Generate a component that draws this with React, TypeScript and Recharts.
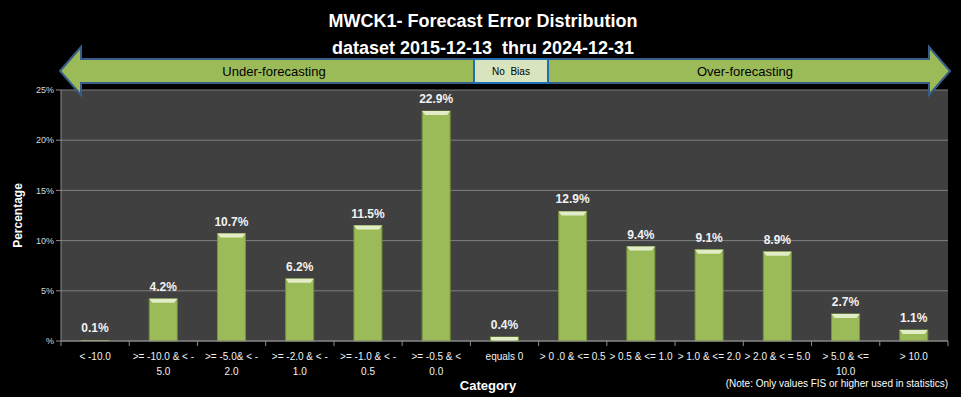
import { BarChart, Bar, XAxis, YAxis, CartesianGrid, LabelList, Cell } from 'recharts';

// category labels, split on the lines the reference wraps them
const categories: string[][] = [
  ['< -10.0'],
  ['>= -10.0 & < -', '5.0'],
  ['>= -5.0& < -', '2.0'],
  ['>= -2.0 & < -', '1.0'],
  ['>= -1.0 & < -', '0.5'],
  ['>= -0.5 & <', '0.0'],
  ['equals 0'],
  ['> 0 .0 & <= 0.5'],
  ['> 0.5 & <= 1.0'],
  ['> 1.0 & <= 2.0'],
  ['> 2.0 & < = 5.0'],
  ['> 5.0 & <=', '10.0'],
  ['> 10.0'],
];

const percentages = [0.1, 4.2, 10.7, 6.2, 11.5, 22.9, 0.4, 12.9, 9.4, 9.1, 8.9, 2.7, 1.1];

const yTicks = [0, 5, 10, 15, 20, 25];

const FONT = "'Liberation Sans', Arial, sans-serif";

const data = categories.map((lines, i) => ({ name: lines.join(' '), lines, value: percentages[i] }));

const BAND = (948 - 61) / categories.length;

const CategoryTick = (props: any) => {
  const { x, y, payload, index } = props;
  const idx = payload.index ?? index;
  const lines: string[] = data[idx]?.lines ?? [String(payload.value)];
  const last = idx === categories.length - 1;
  return (
    <g>
      <line x1={x - BAND / 2} x2={x - BAND / 2} y1={y} y2={y + 5} stroke="#8C8C8C" />
      {last && <line x1={x + BAND / 2} x2={x + BAND / 2} y1={y} y2={y + 5} stroke="#8C8C8C" />}
      {lines.map((l, k) => (
        <text key={k} x={x} y={y + 19 + k * 15} textAnchor="middle" fill="#F2F2F2"
          fontSize={10} fontFamily={FONT}>{l}</text>
      ))}
    </g>
  );
};

// green bar with the light bevel along its top edge
const BevelBar = (props: any) => {
  const { x, y, width, height, fill } = props;
  if (!height || height <= 0) return null;
  if (height < 2) return <rect x={x} y={y} width={width} height={height} fill={fill} />;
  const b = Math.min(4, height);
  return (
    <g>
      <rect x={x} y={y} width={width} height={height} fill={fill} stroke="#76923C" strokeWidth={1} />
      <polygon points={`${x},${y} ${x + width},${y} ${x + width - 3},${y + b} ${x + 3},${y + b}`} fill="#E2EDC8" />
    </g>
  );
};

const Overlay = () => (
  <svg width={961} height={397} style={{ position: 'absolute', left: 0, top: 0, pointerEvents: 'none' }}>
    <text x={483} y={27} textAnchor="middle" fill="#FFFFFF" fontSize={18} fontWeight="bold" fontFamily={FONT}>
      MWCK1- Forecast Error Distribution
    </text>
    <text x={483} y={54} textAnchor="middle" fill="#FFFFFF" fontSize={18} fontWeight="bold" fontFamily={FONT}
      style={{ whiteSpace: 'pre' }}>
      {'dataset 2015-12-13  thru 2024-12-31'}
    </text>
    <polygon
      points="60,71 81,47 81,59 929,59 929,47 950,71 929,95 929,83 81,83 81,95"
      fill="#9BBB59" stroke="#385D8A" strokeWidth={2} />
    <rect x={474} y={59} width={74} height={24} fill="#D7E4BD" stroke="#1F6FB5" strokeWidth={2} />
    <text x={274} y={76} textAnchor="middle" fill="#000" fontSize={13} fontFamily={FONT}>Under-forecasting</text>
    <text x={511} y={75} textAnchor="middle" fill="#000" fontSize={10} fontFamily={FONT}
      style={{ whiteSpace: 'pre' }}>{'No  Bias'}</text>
    <text x={745} y={76} textAnchor="middle" fill="#000" fontSize={13} fontFamily={FONT}>Over-forecasting</text>
    <text x={488} y={390} textAnchor="middle" fill="#FFFFFF" fontSize={13} fontWeight="bold" fontFamily={FONT}>Category</text>
    <text x={948} y={387} textAnchor="end" fill="#FFFFFF" fontSize={10} fontFamily={FONT}>
      (Note: Only values FIS or higher used in statistics)
    </text>
  </svg>
);

export default function App() {
  return (
    <div style={{ position: 'absolute', left: 0, top: 0, width: 961, height: 397, background: '#000' }}>
      <BarChart width={961} height={397} data={data} margin={{ top: 90, right: 13, bottom: 0, left: 0 }}
        barSize={28}>
        <CartesianGrid vertical={false} stroke="#7F7F7F" fill="#404040" />
        <XAxis dataKey="name" interval={0} height={56} tick={<CategoryTick />} tickLine={false}
          tickSize={0} tickMargin={0} axisLine={{ stroke: '#8C8C8C' }} />
        <YAxis domain={[0, 25]} ticks={yTicks} width={61} tickSize={5} interval={0}
          axisLine={{ stroke: '#8C8C8C' }} tickLine={{ stroke: '#8C8C8C' }}
          tick={{ fill: '#D9D9D9', fontSize: 9, fontFamily: FONT }}
          tickFormatter={(v: number) => (v === 0 ? '%' : `${v}%`)}
          label={{ value: 'Percentage', angle: -90, position: 'insideLeft', offset: 18,
            style: { fill: '#FFFFFF', fontSize: 12, fontWeight: 'bold', fontFamily: FONT, textAnchor: 'middle' } }} />
        <Bar dataKey="value" isAnimationActive={false} shape={<BevelBar />}>
          {data.map((d, i) => (
            <Cell key={`cell-${i}`} fill={d.name === 'equals 0' ? '#EEF3E2' : '#9BBB59'} />
          ))}
          <LabelList dataKey="value" position="top" offset={8} fill="#F2F2F2" fontSize={12}
            fontWeight="bold" fontFamily={FONT}
            formatter={(v: any) => `${Number(v).toFixed(1)}%`} />
        </Bar>
      </BarChart>
      <Overlay />
    </div>
  );
}
